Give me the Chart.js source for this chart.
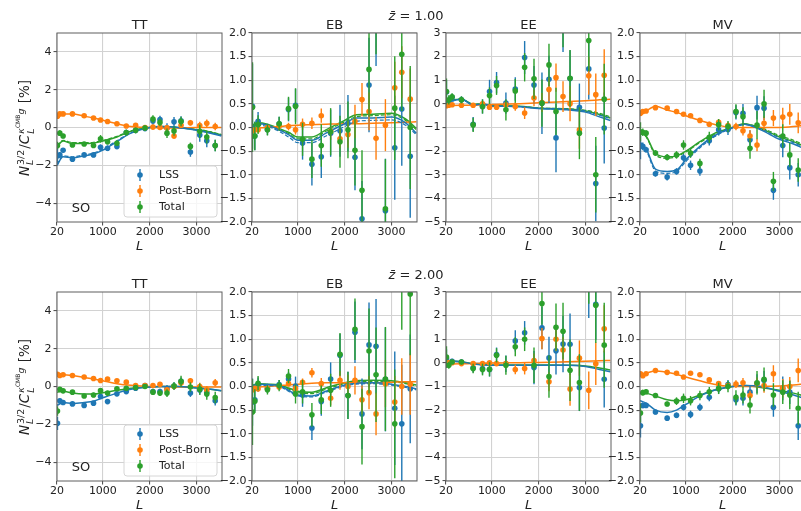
<!DOCTYPE html>
<html>
<head>
<meta charset="utf-8">
<script src="https://cdn.jsdelivr.net/npm/chart.js@4.4.1/dist/chart.umd.min.js"></script>
<style>
  html, body { margin: 0; padding: 0; background: #fff; overflow: hidden; width: 801px; height: 511px; }
  body { position: relative; font-family: "DejaVu Sans", sans-serif; color: #222; }
  canvas { position: absolute; }
  .suptitle { position: absolute; font-size: 13px; white-space: nowrap; transform: translate(-50%, -50%); }
  .ylab { position: absolute; font-size: 13.5px; white-space: nowrap; transform: translate(-50%, -50%) rotate(-90deg); }
  .st { display: inline-flex; flex-direction: column; font-size: 9.5px; line-height: 1; vertical-align: middle; margin: 0 1px; }
  .st sup { font-size: 6px; }
</style>
</head>
<body>
<canvas id="c0" width="211" height="256" style="left:17px;top:0px"></canvas>
<canvas id="c1" width="211" height="256" style="left:212px;top:0px"></canvas>
<canvas id="c2" width="211" height="256" style="left:406px;top:0px"></canvas>
<canvas id="c3" width="211" height="256" style="left:600px;top:0px"></canvas>
<canvas id="c4" width="211" height="256" style="left:17px;top:259px"></canvas>
<canvas id="c5" width="211" height="256" style="left:212px;top:259px"></canvas>
<canvas id="c6" width="211" height="256" style="left:406px;top:259px"></canvas>
<canvas id="c7" width="211" height="256" style="left:600px;top:259px"></canvas>

<div class="suptitle" style="left:416px;top:15px"><i>z&#772;</i> = 1.00</div>
<div class="suptitle" style="left:416px;top:274px"><i>z&#772;</i> = 2.00</div>
<div class="ylab" style="left:25px;top:128px"><i>N</i><span class="st"><span>3/2</span><span><i>L</i></span></span>/<i>C</i><span class="st"><span><i>κ</i><sup>CMB</sup><i>g</i></span><span><i>L</i></span></span> [%]</div>
<div class="ylab" style="left:25px;top:387px"><i>N</i><span class="st"><span>3/2</span><span><i>L</i></span></span>/<i>C</i><span class="st"><span><i>κ</i><sup>CMB</sup><i>g</i></span><span><i>L</i></span></span> [%]</div>

<script>
// --- データ ---
const L_BINS = [30, 80, 150, 350, 600, 800, 950, 1100, 1300, 1500, 1700, 1900, 2070, 2220, 2370, 2520, 2670, 2870, 3070, 3220, 3400];
const L_CURVE = [20, 150, 350, 600, 800, 1000, 1300, 1600, 2000, 2250, 2600, 3000, 3300, 3530];
const X_TICKS = [20, 1000, 2000, 3000];
const Y_TICKS_TT = [-4, -2, 0, 2, 4];
const Y_TICKS_HALF = [-2, -1.5, -1, -0.5, 0, 0.5, 1, 1.5, 2];
const Y_TICKS_EE = [-5, -4, -3, -2, -1, 0, 1, 2, 3];
const SERIES_NAMES = ["LSS", "Post-Born", "Total"];
const SURVEY = "SO";

// z = 1.00 : TT
const TT1_LSS = [-1.5, -1.45, -1.2, -1.68, -1.45, -1.45, -1.05, -1.1, -1.0, -0.27, -0.15, -0.05, 0.35, 0.42, -0.03, 0.3, 0.35, -1.3, -0.4, -0.7, -0.95];
const TT1_LSS_ERR = [0.5, 0.15, 0.12, 0.12, 0.12, 0.12, 0.15, 0.15, 0.15, 0.15, 0.15, 0.15, 0.2, 0.2, 0.25, 0.25, 0.25, 0.25, 0.35, 0.35, 0.3];
const TT1_PB = [0.6, 0.72, 0.72, 0.72, 0.62, 0.5, 0.4, 0.32, 0.2, 0.08, 0.12, 0.0, 0.02, 0.0, -0.02, -0.45, 0.12, 0.25, 0.1, 0.22, 0.05];
const TT1_PB_ERR = [0.12, 0.08, 0.07, 0.07, 0.07, 0.07, 0.07, 0.07, 0.07, 0.07, 0.08, 0.08, 0.1, 0.1, 0.12, 0.15, 0.15, 0.15, 0.2, 0.2, 0.2];
const TT1_TOT = [-0.95, -0.3, -0.45, -0.92, -0.87, -0.95, -0.6, -0.75, -0.83, -0.27, -0.15, -0.03, 0.45, 0.27, -0.3, -0.18, 0.32, -1.0, -0.2, -0.5, -0.95];
const TT1_TOT_ERR = [0.2, 0.15, 0.12, 0.1, 0.1, 0.12, 0.2, 0.15, 0.15, 0.15, 0.15, 0.15, 0.2, 0.2, 0.25, 0.25, 0.25, 0.2, 0.35, 0.35, 0.3];
const TT1_LSS_LINE = [-2.0, -1.55, -1.6, -1.5, -1.4, -1.2, -0.75, -0.3, 0.0, 0.05, 0.0, -0.15, -0.3, -0.45];
const TT1_LSS_DASH = [-1.95, -1.5, -1.55, -1.45, -1.35, -1.15, -0.7, -0.28, 0.0, 0.05, 0.0, -0.13, -0.28, -0.42];
const TT1_PB_LINE = [0.55, 0.72, 0.72, 0.6, 0.5, 0.38, 0.2, 0.05, 0.0, -0.02, -0.02, 0.0, 0.0, 0.0];
const TT1_TOT_LINE = [-1.0, -0.72, -0.85, -0.85, -0.82, -0.72, -0.5, -0.2, 0.0, 0.05, 0.0, -0.12, -0.25, -0.4];
const TT1_TOT_DASH = [-0.95, -0.68, -0.8, -0.8, -0.78, -0.68, -0.47, -0.18, 0.0, 0.05, 0.0, -0.1, -0.22, -0.37];

// z = 1.00 : EB
const EB1_LSS = [0.45, -0.18, 0.13, -0.04, 0.08, 0.38, 0.47, -0.33, -0.78, -0.62, -0.12, -0.07, 0.09, -0.63, -1.93, 0.9, 2.3, -1.76, -0.43, 0.39, -0.61];
const EB1_LSS_ERR = [0.9, 0.3, 0.2, 0.12, 0.15, 0.25, 0.35, 0.35, 0.45, 0.45, 0.5, 0.55, 0.6, 0.7, 0.8, 1.0, 1.0, 1.1, 1.1, 1.2, 1.3];
const EB1_PB = [-0.07, -0.05, -0.05, 0.0, 0.03, 0.02, -0.05, 0.07, 0.09, 0.25, -0.08, -0.24, -0.15, 0.13, 0.59, 0.34, -0.23, 0.05, 0.84, 1.17, 0.6];
const EB1_PB_ERR = [0.05, 0.05, 0.05, 0.05, 0.07, 0.08, 0.1, 0.12, 0.12, 0.15, 0.18, 0.2, 0.28, 0.35, 0.35, 0.4, 0.45, 0.55, 0.55, 0.55, 0.65];
const EB1_TOT = [0.43, -0.18, 0.06, -0.05, 0.08, 0.4, 0.45, -0.25, -0.67, -0.38, -0.09, -0.3, -0.05, -0.48, -1.33, 1.23, 2.6, -1.72, 0.41, 1.55, 0.0];
const EB1_TOT_ERR = [0.95, 0.3, 0.2, 0.12, 0.15, 0.25, 0.38, 0.35, 0.4, 0.45, 0.5, 0.55, 0.6, 0.75, 0.85, 1.0, 1.05, 1.05, 1.1, 1.2, 1.3];
const EB1_LSS_LINE = [0.0, 0.08, 0.05, -0.05, -0.15, -0.27, -0.27, -0.12, 0.08, 0.2, 0.2, 0.22, 0.1, -0.12];
const EB1_LSS_DASH = [-0.02, 0.05, 0.02, -0.08, -0.2, -0.32, -0.32, -0.18, 0.02, 0.13, 0.15, 0.16, 0.05, -0.15];
const EB1_PB_LINE = [-0.02, -0.01, 0.0, 0.02, 0.04, 0.05, 0.06, 0.07, 0.08, 0.08, 0.09, 0.1, 0.11, 0.12];
const EB1_TOT_LINE = [0.05, 0.1, 0.07, -0.02, -0.1, -0.2, -0.2, -0.05, 0.15, 0.27, 0.28, 0.3, 0.18, -0.02];
const EB1_TOT_DASH = [0.03, 0.08, 0.05, -0.04, -0.13, -0.24, -0.24, -0.08, 0.12, 0.23, 0.25, 0.27, 0.15, -0.05];

// z = 1.00 : EE
const EE1_LSS = [0.5, 0.1, 0.28, 0.17, -0.86, -0.11, 0.52, 0.9, 0.03, 0.63, 1.96, 0.8, 0.03, 1.04, -1.44, 3.4, 1.07, -0.14, 1.48, -3.37, -1.02];
const EE1_LSS_ERR = [0.5, 0.2, 0.15, 0.15, 0.3, 0.3, 0.5, 0.45, 0.45, 0.5, 0.7, 0.8, 1.3, 1.0, 1.45, 1.2, 1.2, 1.0, 1.3, 1.6, 1.5];
const EE1_PB = [-0.08, -0.06, -0.04, -0.06, -0.06, 0.0, -0.14, -0.14, -0.04, -0.11, -0.39, 0.25, 0.06, 0.61, 1.11, 0.31, 0.01, -1.1, 1.19, 0.39, 1.21];
const EE1_PB_ERR = [0.05, 0.05, 0.05, 0.05, 0.08, 0.1, 0.12, 0.12, 0.15, 0.18, 0.25, 0.35, 0.4, 0.5, 0.6, 0.65, 0.75, 0.8, 0.8, 0.9, 1.1];
const EE1_TOT = [0.52, 0.17, 0.3, 0.17, -0.89, -0.11, 0.35, 0.78, -0.25, 0.55, 1.55, 1.06, 0.03, 1.65, -0.32, 3.6, 1.08, -1.24, 2.68, -3.0, 0.2];
const EE1_TOT_ERR = [0.55, 0.2, 0.15, 0.15, 0.3, 0.3, 0.35, 0.4, 0.45, 0.5, 0.6, 0.85, 1.0, 0.9, 1.0, 1.2, 1.2, 1.1, 1.3, 1.6, 1.5];
const EE1_LSS_LINE = [0.05, 0.12, 0.2, -0.05, 0.0, -0.1, -0.1, -0.12, -0.2, -0.22, -0.25, -0.35, -0.55, -0.7];
const EE1_LSS_DASH = [0.05, 0.12, 0.2, -0.05, 0.0, -0.1, -0.1, -0.12, -0.18, -0.2, -0.22, -0.3, -0.48, -0.62];
const EE1_PB_LINE = [-0.08, -0.07, -0.06, -0.05, -0.04, -0.03, -0.01, 0.01, 0.05, 0.07, 0.1, 0.13, 0.17, 0.2];
const EE1_TOT_LINE = [0.15, 0.18, 0.2, -0.02, 0.0, -0.08, -0.08, -0.1, -0.18, -0.2, -0.22, -0.3, -0.45, -0.6];
const EE1_TOT_DASH = [0.12, 0.16, 0.2, -0.03, 0.0, -0.09, -0.09, -0.11, -0.17, -0.19, -0.2, -0.27, -0.4, -0.55];

// z = 1.00 : MV
const MV1_LSS = [-0.37, -0.4, -0.47, -0.98, -1.05, -0.93, -0.64, -0.8, -0.92, -0.28, -0.05, -0.04, 0.32, 0.3, -0.26, 0.42, 0.41, -1.33, -0.38, -0.85, -1.0];
const MV1_LSS_ERR = [0.3, 0.08, 0.06, 0.06, 0.07, 0.07, 0.08, 0.1, 0.1, 0.1, 0.12, 0.12, 0.15, 0.2, 0.2, 0.25, 0.25, 0.2, 0.25, 0.25, 0.25];
const MV1_PB = [0.3, 0.34, 0.35, 0.42, 0.41, 0.34, 0.28, 0.25, 0.15, 0.07, 0.11, 0.04, 0.02, -0.07, -0.18, -0.37, 0.09, 0.2, 0.22, 0.28, 0.1];
const MV1_PB_ERR = [0.05, 0.03, 0.03, 0.03, 0.03, 0.03, 0.03, 0.04, 0.04, 0.05, 0.06, 0.07, 0.08, 0.1, 0.12, 0.13, 0.15, 0.17, 0.2, 0.22, 0.22];
const MV1_TOT = [-0.09, -0.1, -0.12, -0.54, -0.63, -0.58, -0.37, -0.54, -0.76, -0.21, 0.06, 0.02, 0.34, 0.23, -0.44, 0.05, 0.5, -1.14, -0.18, -0.58, -0.9];
const MV1_TOT_ERR = [0.2, 0.08, 0.06, 0.06, 0.07, 0.08, 0.1, 0.1, 0.1, 0.12, 0.12, 0.12, 0.15, 0.2, 0.22, 0.3, 0.3, 0.2, 0.25, 0.25, 0.25];
const MV1_LSS_LINE = [-0.35, -0.45, -0.88, -0.93, -0.9, -0.68, -0.4, -0.18, 0.0, 0.07, -0.05, -0.25, -0.35, -0.45];
const MV1_LSS_DASH = [-0.38, -0.48, -0.92, -0.97, -0.93, -0.72, -0.43, -0.2, -0.01, 0.06, -0.03, -0.22, -0.32, -0.42];
const MV1_PB_LINE = [0.3, 0.35, 0.45, 0.37, 0.32, 0.25, 0.15, 0.07, 0.0, 0.0, 0.0, 0.0, 0.02, 0.05];
const MV1_TOT_LINE = [-0.1, -0.18, -0.55, -0.62, -0.6, -0.5, -0.3, -0.13, 0.0, 0.08, -0.02, -0.2, -0.3, -0.4];
const MV1_TOT_DASH = [-0.12, -0.2, -0.58, -0.65, -0.62, -0.52, -0.32, -0.15, 0.0, 0.07, 0.0, -0.17, -0.27, -0.37];

// z = 2.00 : TT
const TT2_LSS = [-1.95, -0.75, -0.85, -0.92, -1.0, -0.88, -0.53, -0.8, -0.39, -0.27, -0.09, 0.05, -0.27, -0.27, -0.12, 0.03, 0.27, -0.35, -0.18, -0.32, -0.76];
const TT2_LSS_ERR = [0.35, 0.12, 0.1, 0.1, 0.1, 0.1, 0.1, 0.1, 0.1, 0.1, 0.1, 0.12, 0.15, 0.15, 0.2, 0.2, 0.2, 0.2, 0.25, 0.25, 0.25];
const TT2_PB = [0.65, 0.58, 0.62, 0.58, 0.5, 0.42, 0.32, 0.39, 0.3, 0.23, 0.05, 0.05, 0.05, 0.12, -0.18, 0.0, 0.18, 0.3, 0.0, -0.18, 0.2];
const TT2_PB_ERR = [0.1, 0.07, 0.06, 0.06, 0.06, 0.06, 0.06, 0.06, 0.06, 0.07, 0.07, 0.08, 0.1, 0.1, 0.12, 0.15, 0.15, 0.15, 0.2, 0.2, 0.2];
const TT2_TOT = [-1.3, -0.15, -0.23, -0.3, -0.5, -0.45, -0.22, -0.35, -0.12, -0.09, -0.05, 0.0, -0.3, -0.35, -0.35, 0.03, 0.27, -0.03, -0.14, -0.4, -0.58];
const TT2_TOT_ERR = [0.25, 0.12, 0.1, 0.1, 0.1, 0.12, 0.12, 0.12, 0.12, 0.12, 0.12, 0.12, 0.15, 0.15, 0.2, 0.2, 0.3, 0.25, 0.3, 0.3, 0.3];
const TT2_LSS_LINE = [-1.0, -0.85, -0.9, -0.85, -0.78, -0.6, -0.35, -0.15, -0.03, 0.0, 0.0, -0.08, -0.15, -0.22];
const TT2_PB_LINE = [0.55, 0.62, 0.58, 0.48, 0.4, 0.3, 0.15, 0.06, 0.0, 0.0, -0.02, -0.02, -0.02, -0.02];
const TT2_TOT_LINE = [-0.3, -0.25, -0.35, -0.4, -0.4, -0.33, -0.2, -0.09, -0.02, 0.0, 0.0, -0.07, -0.15, -0.22];

// z = 2.00 : EB
const EB2_LSS = [-0.33, -0.28, 0.04, -0.04, 0.04, 0.16, 0.01, -0.18, -0.88, -0.32, 0.16, 0.66, -0.19, 1.15, -0.58, 0.88, 0.85, 0.15, -0.46, -0.79, -0.05];
const EB2_LSS_ERR = [0.5, 0.25, 0.15, 0.1, 0.1, 0.15, 0.2, 0.25, 0.25, 0.3, 0.35, 0.45, 0.5, 0.65, 0.75, 0.9, 1.0, 1.1, 1.2, 1.25, 1.15];
const EB2_PB = [-0.07, -0.04, -0.05, -0.04, -0.01, 0.06, -0.04, 0.09, 0.29, 0.06, -0.25, 0.13, 0.0, 0.13, -0.28, -0.13, -0.58, 0.06, -0.33, 0.0, 0.05];
const EB2_PB_ERR = [0.05, 0.05, 0.05, 0.05, 0.05, 0.06, 0.07, 0.08, 0.1, 0.12, 0.15, 0.2, 0.25, 0.3, 0.3, 0.35, 0.45, 0.5, 0.55, 0.6, 0.65];
const EB2_TOT = [-0.54, -0.31, 0.07, -0.07, 0.02, 0.22, -0.16, -0.11, -0.6, -0.28, -0.08, 0.68, -0.19, 1.21, -0.85, 0.75, 0.25, 0.16, -0.79, 2.5, 1.96];
const EB2_TOT_ERR = [0.7, 0.25, 0.15, 0.1, 0.12, 0.15, 0.2, 0.25, 0.25, 0.3, 0.35, 0.45, 0.5, 0.65, 0.8, 0.9, 1.0, 1.1, 1.15, 1.3, 1.3];
const EB2_LSS_LINE = [0.0, 0.05, 0.04, 0.02, -0.08, -0.18, -0.2, -0.1, 0.03, 0.07, 0.08, 0.05, 0.0, -0.05];
const EB2_LSS_DASH = [-0.02, 0.03, 0.02, 0.0, -0.1, -0.2, -0.22, -0.12, 0.01, 0.05, 0.06, 0.03, -0.02, -0.07];
const EB2_PB_LINE = [-0.02, -0.01, 0.0, 0.02, 0.03, 0.05, 0.07, 0.08, 0.08, 0.08, 0.08, 0.09, 0.1, 0.1];
const EB2_TOT_LINE = [0.02, 0.06, 0.05, 0.03, -0.03, -0.1, -0.12, -0.03, 0.08, 0.12, 0.13, 0.12, 0.08, 0.03];
const EB2_TOT_DASH = [0.0, 0.05, 0.04, 0.02, -0.05, -0.13, -0.15, -0.06, 0.06, 0.1, 0.11, 0.1, 0.06, 0.01];

// z = 2.00 : EE
const EE2_LSS = [0.18, -0.03, 0.07, 0.04, -0.21, -0.24, -0.28, 0.35, -0.04, 0.93, 1.27, -0.2, 1.48, 0.21, 0.51, 0.8, 0.79, -1.04, 3.2, 2.48, -0.69];
const EE2_LSS_ERR = [0.4, 0.15, 0.1, 0.1, 0.2, 0.25, 0.3, 0.3, 0.35, 0.45, 0.5, 0.7, 0.9, 0.9, 1.0, 1.2, 1.3, 1.0, 1.3, 1.5, 1.2];
const EE2_PB = [-0.07, 0.01, 0.01, -0.03, -0.03, -0.03, 0.0, -0.03, -0.03, -0.28, -0.24, 0.1, 1.03, -0.8, 1.0, 0.54, -1.11, 0.2, -1.16, -0.04, 1.44];
const EE2_PB_ERR = [0.05, 0.05, 0.05, 0.05, 0.05, 0.06, 0.08, 0.1, 0.12, 0.2, 0.25, 0.3, 0.45, 0.4, 0.5, 0.55, 0.7, 0.75, 0.8, 0.9, 1.0];
const EE2_TOT = [0.25, -0.1, 0.04, 0.04, -0.24, -0.28, -0.27, 0.32, -0.1, 0.68, 1.0, -0.1, 2.51, -0.58, 1.51, 1.34, -0.31, -0.83, 3.8, 2.44, 0.75];
const EE2_TOT_ERR = [0.45, 0.15, 0.1, 0.1, 0.2, 0.25, 0.3, 0.3, 0.4, 0.4, 0.5, 0.75, 0.9, 0.9, 1.0, 1.2, 1.3, 1.2, 1.3, 1.6, 1.8];
const EE2_LSS_LINE = [0.1, 0.08, 0.05, -0.05, -0.08, -0.1, -0.1, -0.1, -0.1, -0.1, -0.1, -0.15, -0.28, -0.38];
const EE2_PB_LINE = [-0.06, -0.05, -0.04, -0.03, -0.02, -0.01, 0.0, 0.01, 0.02, 0.03, 0.05, 0.07, 0.09, 0.1];
const EE2_TOT_LINE = [0.08, 0.07, 0.05, -0.04, -0.07, -0.09, -0.09, -0.09, -0.09, -0.09, -0.1, -0.13, -0.22, -0.3];

// z = 2.00 : MV
const MV2_LSS = [-0.83, -0.4, -0.4, -0.54, -0.67, -0.61, -0.44, -0.59, -0.44, -0.23, -0.05, 0.04, -0.28, -0.25, -0.12, 0.06, 0.13, -0.44, -0.04, -0.12, -0.83];
const MV2_LSS_ERR = [0.25, 0.06, 0.05, 0.05, 0.05, 0.06, 0.07, 0.08, 0.08, 0.08, 0.1, 0.1, 0.12, 0.15, 0.15, 0.2, 0.2, 0.2, 0.25, 0.25, 0.3];
const MV2_PB = [0.27, 0.23, 0.27, 0.34, 0.3, 0.28, 0.2, 0.28, 0.25, 0.14, 0.06, 0.02, 0.05, 0.08, -0.19, 0.07, 0.02, 0.27, -0.04, 0.0, 0.34];
const MV2_PB_ERR = [0.05, 0.03, 0.03, 0.03, 0.03, 0.03, 0.03, 0.03, 0.04, 0.05, 0.05, 0.06, 0.08, 0.1, 0.1, 0.12, 0.15, 0.18, 0.2, 0.2, 0.25];
const MV2_TOT = [-0.56, -0.13, -0.11, -0.19, -0.37, -0.31, -0.25, -0.3, -0.19, -0.11, -0.04, 0.0, -0.23, -0.18, -0.39, 0.08, 0.15, -0.18, -0.12, -0.18, -0.46];
const MV2_TOT_ERR = [0.2, 0.06, 0.05, 0.05, 0.05, 0.08, 0.1, 0.1, 0.1, 0.1, 0.12, 0.12, 0.15, 0.18, 0.18, 0.25, 0.25, 0.25, 0.25, 0.3, 0.35];
const MV2_LSS_LINE = [-0.3, -0.35, -0.5, -0.55, -0.5, -0.38, -0.2, -0.08, 0.0, 0.02, 0.0, -0.1, -0.18, -0.25];
const MV2_PB_LINE = [0.25, 0.28, 0.33, 0.3, 0.26, 0.2, 0.12, 0.05, 0.0, 0.0, 0.0, 0.01, 0.03, 0.06];
const MV2_TOT_LINE = [-0.15, -0.15, -0.2, -0.28, -0.3, -0.28, -0.18, -0.08, 0.0, 0.02, -0.02, -0.08, -0.14, -0.2];

const C_LSS = "#1f77b4", C_PB = "#ff7f0e", C_TOT = "#2ca02c";
const X_MAX = 3545;

// --- パネル定義 ---
const PANELS = [
  { id: "c0", title: "TT", yMin: -5, yMax: 5, yTicks: Y_TICKS_TT, dec: 0, notes: true,
    pts: [TT1_LSS, TT1_LSS_ERR, TT1_PB, TT1_PB_ERR, TT1_TOT, TT1_TOT_ERR],
    lines: [[TT1_LSS_LINE, C_LSS], [TT1_LSS_DASH, C_LSS, true], [TT1_PB_LINE, C_PB], [TT1_TOT_LINE, C_TOT], [TT1_TOT_DASH, C_TOT, true]] },
  { id: "c1", title: "EB", yMin: -2, yMax: 2, yTicks: Y_TICKS_HALF, dec: 1,
    pts: [EB1_LSS, EB1_LSS_ERR, EB1_PB, EB1_PB_ERR, EB1_TOT, EB1_TOT_ERR],
    lines: [[EB1_LSS_LINE, C_LSS], [EB1_LSS_DASH, C_LSS, true], [EB1_PB_LINE, C_PB], [EB1_TOT_LINE, C_TOT], [EB1_TOT_DASH, C_TOT, true]] },
  { id: "c2", title: "EE", yMin: -5, yMax: 3, yTicks: Y_TICKS_EE, dec: 0,
    pts: [EE1_LSS, EE1_LSS_ERR, EE1_PB, EE1_PB_ERR, EE1_TOT, EE1_TOT_ERR],
    lines: [[EE1_LSS_LINE, C_LSS], [EE1_LSS_DASH, C_LSS, true], [EE1_PB_LINE, C_PB], [EE1_TOT_LINE, C_TOT], [EE1_TOT_DASH, C_TOT, true]] },
  { id: "c3", title: "MV", yMin: -2, yMax: 2, yTicks: Y_TICKS_HALF, dec: 1,
    pts: [MV1_LSS, MV1_LSS_ERR, MV1_PB, MV1_PB_ERR, MV1_TOT, MV1_TOT_ERR],
    lines: [[MV1_LSS_LINE, C_LSS], [MV1_LSS_DASH, C_LSS, true], [MV1_PB_LINE, C_PB], [MV1_TOT_LINE, C_TOT], [MV1_TOT_DASH, C_TOT, true]] },
  { id: "c4", title: "TT", yMin: -5, yMax: 5, yTicks: Y_TICKS_TT, dec: 0, notes: true,
    pts: [TT2_LSS, TT2_LSS_ERR, TT2_PB, TT2_PB_ERR, TT2_TOT, TT2_TOT_ERR],
    lines: [[TT2_LSS_LINE, C_LSS], [TT2_PB_LINE, C_PB], [TT2_TOT_LINE, C_TOT]] },
  { id: "c5", title: "EB", yMin: -2, yMax: 2, yTicks: Y_TICKS_HALF, dec: 1,
    pts: [EB2_LSS, EB2_LSS_ERR, EB2_PB, EB2_PB_ERR, EB2_TOT, EB2_TOT_ERR],
    lines: [[EB2_LSS_LINE, C_LSS], [EB2_LSS_DASH, C_LSS, true], [EB2_PB_LINE, C_PB], [EB2_TOT_LINE, C_TOT], [EB2_TOT_DASH, C_TOT, true]] },
  { id: "c6", title: "EE", yMin: -5, yMax: 3, yTicks: Y_TICKS_EE, dec: 0,
    pts: [EE2_LSS, EE2_LSS_ERR, EE2_PB, EE2_PB_ERR, EE2_TOT, EE2_TOT_ERR],
    lines: [[EE2_LSS_LINE, C_LSS], [EE2_PB_LINE, C_PB], [EE2_TOT_LINE, C_TOT]] },
  { id: "c7", title: "MV", yMin: -2, yMax: 2, yTicks: Y_TICKS_HALF, dec: 1,
    pts: [MV2_LSS, MV2_LSS_ERR, MV2_PB, MV2_PB_ERR, MV2_TOT, MV2_TOT_ERR],
    lines: [[MV2_LSS_LINE, C_LSS], [MV2_PB_LINE, C_PB], [MV2_TOT_LINE, C_TOT]] }
];

// --- プラグイン ---
// エラーバー（各データセットの直前に描く）
const errorBars = {
  id: "errorBars",
  beforeDatasetDraw(chart, args) {
    const ds = chart.data.datasets[args.index];
    if (!ds.errors) return;
    const { ctx, chartArea: a, scales: { x, y } } = chart;
    ctx.save();
    ctx.beginPath();
    ctx.rect(a.left, a.top, a.right - a.left, a.bottom - a.top);
    ctx.clip();
    ctx.strokeStyle = ds.backgroundColor;
    ctx.lineWidth = 1.4;
    ds.data.forEach((p, i) => {
      const px = x.getPixelForValue(p.x);
      ctx.beginPath();
      ctx.moveTo(px, y.getPixelForValue(p.y - ds.errors[i]));
      ctx.lineTo(px, y.getPixelForValue(p.y + ds.errors[i]));
      ctx.stroke();
    });
    ctx.restore();
  }
};

// 枠線
const frame = {
  id: "frame",
  afterDraw(chart) {
    const { ctx, chartArea: a } = chart;
    ctx.save();
    ctx.strokeStyle = "#5e5e5e";
    ctx.lineWidth = 1;
    ctx.strokeRect(a.left, a.top, a.right - a.left, a.bottom - a.top);
    ctx.restore();
  }
};

// 凡例と "SO"
const panelNotes = {
  id: "panelNotes",
  afterDraw(chart, args, opts) {
    if (!opts.show) return;
    const { ctx, chartArea: a } = chart;
    const w = 93, h = 51;
    const bx = a.right - 5 - w, by = a.bottom - 5 - h;
    const colors = [C_LSS, C_PB, C_TOT];
    ctx.save();
    ctx.beginPath();
    ctx.roundRect(bx, by, w, h, 3);
    ctx.fillStyle = "rgba(255,255,255,0.8)";
    ctx.fill();
    ctx.strokeStyle = "#d6d6d6";
    ctx.lineWidth = 1;
    ctx.stroke();
    ctx.font = '11px "DejaVu Sans"';
    ctx.textBaseline = "middle";
    SERIES_NAMES.forEach((name, i) => {
      const yy = by + 9 + i * 16;
      const mx = bx + 16;
      ctx.strokeStyle = colors[i];
      ctx.lineWidth = 1.4;
      ctx.beginPath();
      ctx.moveTo(mx, yy - 6);
      ctx.lineTo(mx, yy + 6);
      ctx.stroke();
      ctx.fillStyle = colors[i];
      ctx.beginPath();
      ctx.arc(mx, yy, 2.8, 0, Math.PI * 2);
      ctx.fill();
      ctx.fillStyle = "#222";
      ctx.textAlign = "left";
      ctx.fillText(name, bx + 35, yy);
    });
    ctx.font = '13px "DejaVu Sans"';
    ctx.textAlign = "center";
    ctx.fillStyle = "#222";
    ctx.fillText(SURVEY, a.left + 24, a.bottom - 13);
    ctx.restore();
  }
};

Chart.defaults.font.family = '"DejaVu Sans", sans-serif';
Chart.defaults.color = "#222";

const fmt = (dec) => (v) => (v < 0 ? "\u2212" : "") + Math.abs(v).toFixed(dec);

PANELS.forEach(p => {
  const [lss, lssErr, pb, pbErr, tot, totErr] = p.pts;
  const pointSet = (label, vals, errs, color, order) => ({
    label, order, errors: errs,
    data: L_BINS.map((l, i) => ({ x: l, y: vals[i] })),
    backgroundColor: color, borderColor: color,
    pointRadius: 2.8, pointBorderWidth: 0, showLine: false, clip: 0
  });
  const datasets = [
    pointSet(SERIES_NAMES[0], lss, lssErr, C_LSS, 3),
    pointSet(SERIES_NAMES[1], pb, pbErr, C_PB, 2),
    pointSet(SERIES_NAMES[2], tot, totErr, C_TOT, 1)
  ];
  p.lines.forEach(([vals, color, dashed]) => {
    datasets.push({
      type: "line", order: 5,
      data: L_CURVE.map((l, i) => ({ x: l, y: vals[i] })),
      borderColor: color, borderWidth: dashed ? 1.2 : 1.5,
      borderDash: dashed ? [4, 2] : [],
      pointRadius: 0, fill: false, cubicInterpolationMode: "monotone", clip: 0
    });
  });

  new Chart(document.getElementById(p.id), {
    type: "scatter",
    data: { datasets },
    options: {
      responsive: false,
      animation: false,
      events: [],
      layout: { padding: { left: 0, right: 6, top: 0, bottom: 0 } },
      plugins: {
        legend: { display: false },
        tooltip: { enabled: false },
        title: {
          display: true, text: p.title, fullSize: false, color: "#222",
          font: { size: 13, weight: "normal" }, padding: { top: 17.4, bottom: 0 }
        },
        panelNotes: { show: !!p.notes }
      },
      scales: {
        x: {
          type: "linear", min: 20, max: X_MAX,
          afterBuildTicks: s => { s.ticks = X_TICKS.map(v => ({ value: v })); },
          afterFit: s => { s.height = 34; },
          ticks: { font: { size: 11 }, color: "#222", padding: 0, maxRotation: 0, autoSkip: false, callback: v => String(v) },
          grid: { color: "#d2d2d2", lineWidth: 1.1, tickColor: "#555", tickLength: 3.5 },
          border: { display: false },
          title: { display: true, text: "L", color: "#222", font: { size: 13, style: "italic" }, padding: { top: 0, bottom: 1.2 } }
        },
        y: {
          min: p.yMin, max: p.yMax,
          afterBuildTicks: s => { s.ticks = p.yTicks.map(v => ({ value: v })); },
          afterFit: s => { s.width = 40; },
          ticks: { font: { size: 11 }, color: "#222", padding: 2, autoSkip: false, callback: fmt(p.dec) },
          grid: { color: "#d2d2d2", lineWidth: 1.1, tickColor: "#555", tickLength: 3.5 },
          border: { display: false }
        }
      }
    },
    plugins: [errorBars, frame, panelNotes]
  });
});
</script>
</body>
</html>
